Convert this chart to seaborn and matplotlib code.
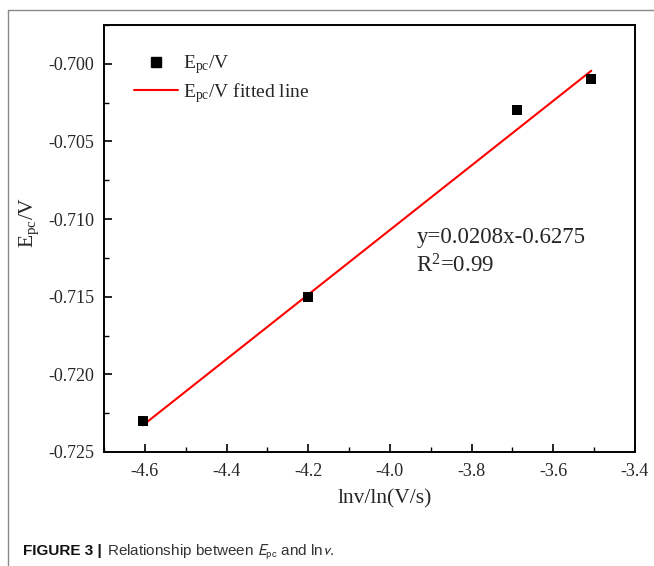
import matplotlib
matplotlib.use('Agg')
import matplotlib.pyplot as plt
import seaborn as sns
import pandas as pd
import numpy as np
from matplotlib.ticker import MultipleLocator, FormatStrFormatter
from matplotlib.lines import Line2D

# Datos
ln_v = [-4.605, -4.200, -3.689, -3.507]
e_pc = [-0.723, -0.715, -0.703, -0.701]
slope = 0.0208
intercept = -0.6275

df = pd.DataFrame({'lnv': ln_v, 'Epc': e_pc})
fit = pd.DataFrame({'lnv': [min(ln_v), max(ln_v)]})
fit['Epc'] = slope * fit['lnv'] + intercept

sns.set_style('ticks')
plt.rcParams['font.family'] = ['Liberation Serif', 'DejaVu Serif']
plt.rcParams['mathtext.fontset'] = 'custom'
plt.rcParams['mathtext.rm'] = 'Liberation Serif'
plt.rcParams['mathtext.it'] = 'Liberation Serif:italic'

fig = plt.figure(figsize=(6.54, 5.66), dpi=100)
ax = fig.add_axes([104/654, 1 - 452/566, 531/654, 427/566])

sns.scatterplot(data=df, x='lnv', y='Epc', marker='s', s=55, color='black',
                edgecolor='black', linewidth=0, ax=ax, zorder=3)
sns.lineplot(data=fit, x='lnv', y='Epc', color='#ff0000', linewidth=1.5, ax=ax, zorder=2)

ax.set_xlim(-4.7, -3.4)
ax.set_ylim(-0.725, -0.6975)
ax.xaxis.set_major_locator(MultipleLocator(0.2))
ax.xaxis.set_minor_locator(MultipleLocator(0.1))
ax.yaxis.set_major_locator(MultipleLocator(0.005))
ax.yaxis.set_minor_locator(MultipleLocator(0.0025))
ax.yaxis.set_major_formatter(FormatStrFormatter('%.3f'))
ax.xaxis.set_major_formatter(FormatStrFormatter('%.1f'))
ax.tick_params(which='both', direction='in', top=False, right=False, labelsize=13, color='black')
ax.tick_params(which='major', length=6, width=1.2)
ax.tick_params(which='minor', length=3.5, width=1.0)
ax.tick_params(axis='y', which='major', pad=7)
ax.tick_params(axis='x', which='major', pad=8)
for sp in ax.spines.values():
    sp.set_linewidth(1.4)
    sp.set_color('black')

ax.set_xlabel('lnv/ln(V/s)', fontsize=15.5)
ax.set_ylabel(r'$\mathrm{E_{pc}}$/V', fontsize=15.5)
ax.xaxis.set_label_coords((385 - 104) / 531, -(489 - 452) / 427)
ax.yaxis.set_label_coords((41 - 104) / 531, (452 - 222) / 427)

handles = [
    Line2D([], [], marker='s', color='black', linestyle='none', markersize=7),
    Line2D([], [], color='#ff0000', linewidth=1.5),
]
ax.legend(handles, [r'$\mathrm{E_{pc}}$/V', r'$\mathrm{E_{pc}}$/V fitted line'],
          loc='upper left', bbox_to_anchor=(0.0226, 0.975), frameon=False,
          fontsize=14, handlelength=2.3, handletextpad=0.26, labelspacing=0.25)

ax.text(0.588, 0.5035, 'y=0.0208x-0.6275', transform=ax.transAxes,
        fontsize=16.5, va='center', ha='left')
ax.text(0.588, 0.4356, r'R$^{2}$=0.99', transform=ax.transAxes,
        fontsize=16.5, va='center', ha='left')

# marco gris de la figura
fig.add_artist(Line2D([8/654, 1], [1 - 10/566, 1 - 10/566], color='#888888', linewidth=1.0,
                      transform=fig.transFigure))
fig.add_artist(Line2D([8/654, 8/654], [0, 1 - 10/566], color='#888888', linewidth=1.0,
                      transform=fig.transFigure))

# pie de figura
cap_y = 1 - 555/566
t1 = fig.text(23/654, cap_y, 'FIGURE 3 |', fontsize=11, fontweight='bold',
              family='Liberation Sans', va='baseline', ha='left', color='#111111')
fig.canvas.draw()
x_end = t1.get_window_extent().x1
fig.text((x_end + 5) / 654, cap_y, r'Relationship between $E_{\mathrm{pc}}$ and ln$v$.',
         fontsize=11, family='Liberation Sans', math_fontfamily='stixsans',
         va='baseline', ha='left', color='#333333')

fig.savefig('out.png', dpi=100)
